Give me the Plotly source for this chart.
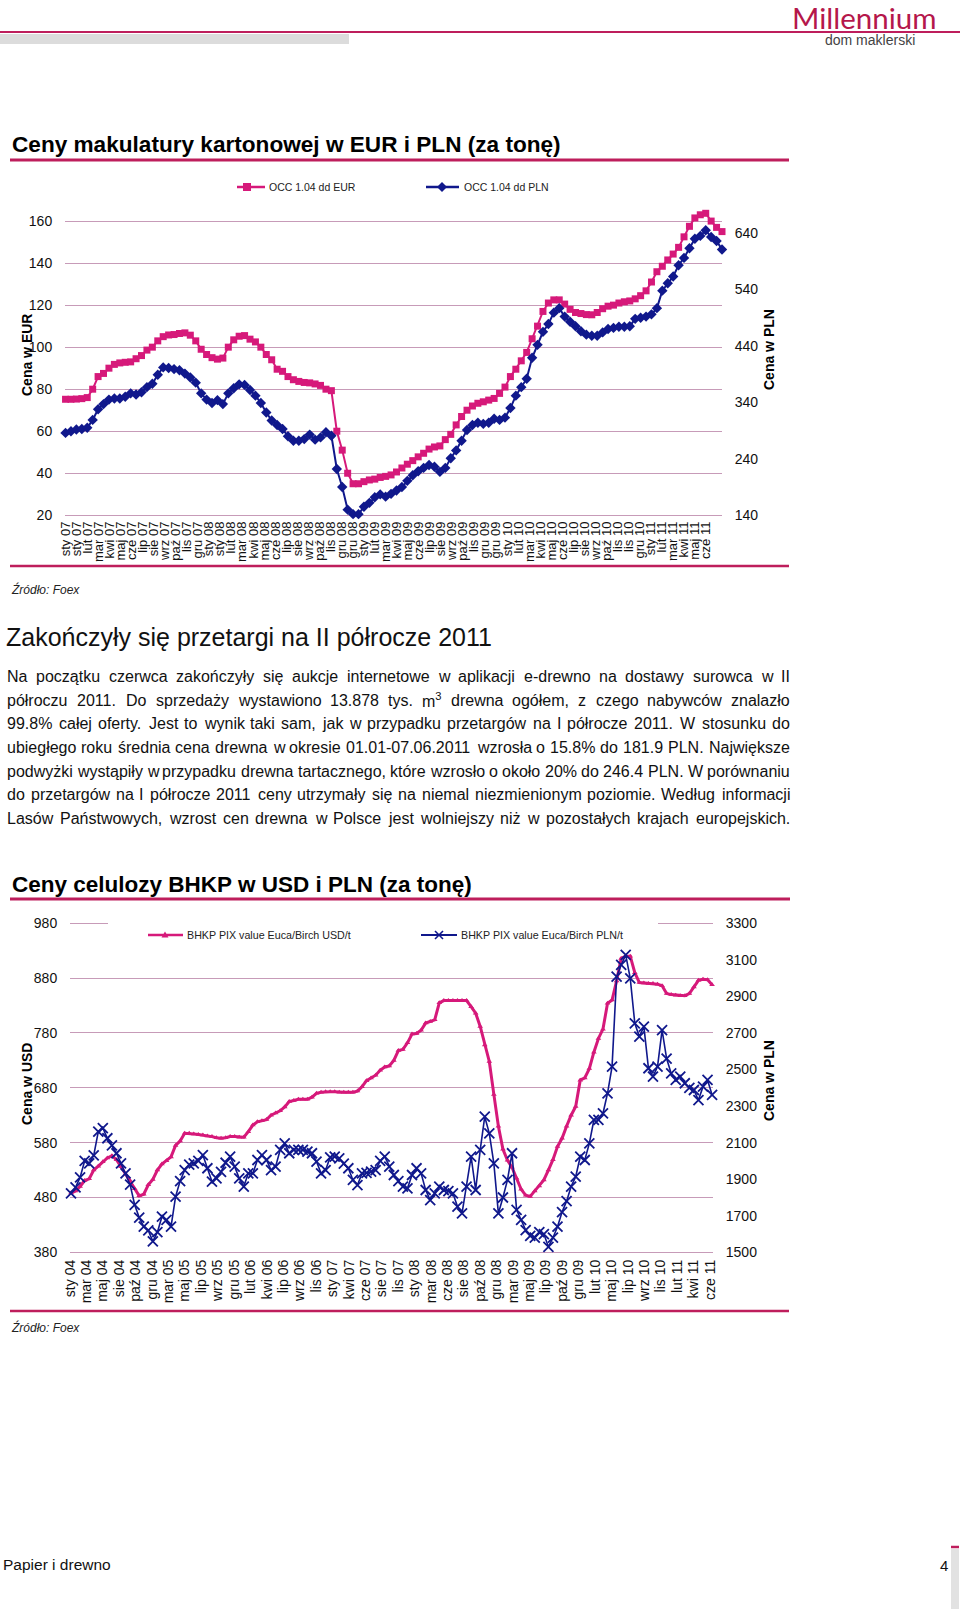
import plotly.graph_objects as go

# ---------------- DATA ----------------
# Chart 1: OCC 1.04 (two-week steps), tick labels
occ_eur = [75.2, 75.2, 75.3, 75.5, 76.0, 80.0, 86.0, 87.5, 90.0, 91.8,
           92.5, 92.8, 93.0, 94.5, 96.0, 98.6, 100.0, 103.0, 105.0, 105.8,
           106.0, 106.5, 106.8, 105.7, 103.0, 99.0, 96.5, 95.0, 94.3, 94.8,
           100.0, 103.5, 105.2, 105.5, 103.8, 102.5, 100.0, 96.5, 94.0, 89.5,
           88.5, 86.0, 84.5, 83.7, 83.2, 83.0, 82.5, 81.8, 80.0, 79.3,
           60.0, 51.0, 40.0, 35.0, 35.0, 36.0, 36.8, 37.2, 38.0, 38.5,
           39.2, 40.6, 42.5, 44.3, 46.0, 47.8, 49.5, 51.5, 52.5, 53.0,
           56.0, 58.5, 63.0, 67.0, 70.0, 72.0, 73.3, 74.0, 74.8, 75.6,
           78.0, 81.0, 86.0, 89.5, 93.5, 97.5, 104.0, 110.0, 117.0, 121.0,
           122.5, 122.5, 120.5, 118.0, 116.5, 116.0, 115.5, 115.4, 116.5, 118.3,
           119.5, 120.0, 121.0, 121.6, 122.0, 123.0, 124.5, 126.8, 131.0, 135.9,
           138.5, 141.5, 144.3, 147.5, 152.5, 157.5, 161.5, 163.0, 163.7, 160.0,
           157.0, 155.0]
occ_pln = [286, 289, 292, 293, 295, 309, 328, 337, 345, 347,
           347, 350, 356, 354, 358, 367, 373, 389, 402, 401,
           399, 397, 391, 384, 375, 356, 345, 339, 344, 337,
           356, 365, 372, 371, 362, 352, 339, 322, 308, 300,
           293, 280, 272, 272, 275, 283, 274, 278, 287, 281,
           222, 190, 150, 142, 142, 155, 162, 172, 177, 173,
           178, 184, 190, 201, 211, 218, 224, 229, 226, 217,
           224, 241, 255, 272, 291, 300, 304, 302, 304, 311,
           309, 313, 330, 352, 367, 382, 419, 442, 465, 479,
           499, 507, 492, 483, 475, 466, 460, 458, 458, 464,
           470, 472, 474, 474, 475, 488, 490, 492, 496, 507,
           538, 551, 563, 583, 596, 613, 630, 635, 645, 633,
           626, 611]
labels1 = ["sty 07", "sty 07", "lut 07", "mar 07", "kwi 07", "maj 07", "cze 07", "lip 07",
           "sie 07", "wrz 07", "paź 07", "lis 07", "gru 07", "sty 08", "sty 08", "lut 08",
           "mar 08", "kwi 08", "maj 08", "cze 08", "lip 08", "sie 08", "wrz 08", "paź 08",
           "lis 08", "gru 08", "gru 08", "sty 09", "lut 09", "mar 09", "kwi 09", "maj 09",
           "cze 09", "lip 09", "sie 09", "wrz 09", "paź 09", "lis 09", "gru 09", "gru 09",
           "sty 10", "lut 10", "mar 10", "kwi 10", "maj 10", "cze 10", "lip 10", "sie 10",
           "wrz 10", "paź 10", "lis 10", "lis 10", "gru 10", "sty 11", "lut 11", "mar 11",
           "kwi 11", "maj 11", "cze 11"]

# Chart 2: BHKP PIX (about three points per tick label)
bhkp_usd = [488, 492, 500, 511, 514, 530, 537, 545, 552, 556,
            549, 536, 523, 511, 496, 483, 486, 503, 513, 530,
            541, 547, 554, 575, 583, 597, 597, 596, 595, 594,
            592, 591, 589, 588, 589, 591, 591, 590, 590, 600,
            612, 618, 620, 622, 630, 634, 638, 645, 655, 657,
            659, 659, 659, 663, 670, 672, 673, 673, 673, 672,
            672, 672, 672, 674, 682, 693, 698, 703, 712, 718,
            720, 730, 748, 750, 762, 778, 779, 785, 798, 801,
            804, 835, 839, 839, 839, 839, 839, 839, 828, 816,
            792, 758, 728, 668, 610, 568, 548, 535, 515, 495,
            484, 482, 492, 501, 512, 530, 549, 573, 588, 610,
            630, 646, 694, 698, 715, 745, 770, 787, 834, 840,
            875, 916, 920, 920, 890, 872, 871, 870, 870, 869,
            866, 852, 850, 849, 848, 848, 852, 864, 876, 878,
            877, 868]
bhkp_pln = [1823, 1855, 1910, 2000, 1987, 2030, 2160, 2180, 2124, 2085,
            2042, 1987, 1932, 1870, 1760, 1690, 1640, 1620, 1560, 1610,
            1695, 1677, 1640, 1805, 1890, 1950, 1980, 1987, 2000, 2032,
            1960, 1887, 1905, 1940, 1990, 2023, 1969, 1905, 1860, 1932,
            1932, 2005, 2032, 2005, 1950, 1969, 2060, 2096, 2042, 2060,
            2060, 2060, 2051, 2042, 1996, 1932, 1950, 2020, 2023, 2014,
            1985, 1960, 1896, 1868, 1932, 1935, 1941, 1950, 2000, 2023,
            1969, 1923, 1890, 1860, 1850, 1923, 1960, 1932, 1841, 1786,
            1823, 1859, 1841, 1835, 1823, 1750, 1713, 1859, 2023, 1841,
            2060, 2242, 2151, 1987, 1713, 1800, 1896, 2042, 1732, 1677,
            1622, 1590, 1580, 1610, 1600, 1530, 1580, 1640, 1720, 1780,
            1860, 1914, 2023, 2005, 2096, 2224, 2224, 2260, 2370, 2516,
            3008, 3072, 3127, 2999, 2753, 2680, 2735, 2507, 2461, 2516,
            2716, 2560, 2479, 2443, 2461, 2425, 2400, 2388, 2333, 2406,
            2443, 2361]
labels2 = ["sty 04", "mar 04", "maj 04", "sie 04", "paź 04", "gru 04", "mar 05", "maj 05",
           "lip 05", "wrz 05", "gru 05", "lut 06", "kwi 06", "lip 06", "wrz 06", "lis 06",
           "sty 07", "kwi 07", "cze 07", "sie 07", "lis 07", "sty 08", "mar 08", "cze 08",
           "sie 08", "paź 08", "gru 08", "mar 09", "maj 09", "lip 09", "paź 09", "gru 09",
           "lut 10", "maj 10", "lip 10", "wrz 10", "lis 10", "lut 11", "kwi 11", "cze 11"]

eur_ticks = [20, 40, 60, 80, 100, 120, 140, 160]
pln1_ticks = [140, 240, 340, 440, 540, 640]
usd_ticks = [380, 480, 580, 680, 780, 880, 980]
pln2_ticks = [1500, 1700, 1900, 2100, 2300, 2500, 2700, 2900, 3100, 3300]

paragraph = [
    "Na początku czerwca zakończyły się aukcje internetowe w aplikacji e-drewno na dostawy surowca w II",
    "półroczu 2011. Do sprzedaży wystawiono 13.878 tys. m<sup>3</sup> drewna ogółem, z czego nabywców znalazło",
    "99.8% całej oferty. Jest to wynik taki sam, jak w przypadku przetargów na I półrocze 2011. W stosunku do",
    "ubiegłego roku średnia cena drewna w okresie 01.01-07.06.2011 wzrosła o 15.8% do 181.9 PLN. Największe",
    "podwyżki wystąpiły w przypadku drewna tartacznego, które wzrosło o około 20% do 246.4 PLN. W porównaniu",
    "do przetargów na I półrocze 2011 ceny utrzymały się na niemal niezmienionym poziomie. Według informacji",
    "Lasów Państwowych, wzrost cen drewna w Polsce jest wolniejszy niż w pozostałych krajach europejskich.",
]

# ---------------- STYLE / LAYOUT HELPERS ----------------
W, H = 960, 1611
PINK = "#D6197A"
NAVY = "#10188C"
CRIMSON = "#BE1E5C"
GRID = "#C79BB8"
FONT = "Liberation Sans, Arial, sans-serif"


def fx(x):
    return x / W


def fy(y):
    return 1 - y / H


annotations = []
shapes = []


def text(x, y, t, size, color="#000000", xanchor="left", angle=0, family=FONT):
    annotations.append(dict(x=fx(x), y=fy(y), xref="paper", yref="paper", text=t,
                            showarrow=False, xanchor=xanchor, yanchor="middle",
                            textangle=angle, borderpad=0,
                            font=dict(size=size, color=color, family=family)))


def hline(x0, x1, y, color, width):
    shapes.append(dict(type="line", xref="paper", yref="paper", x0=fx(x0), x1=fx(x1),
                       y0=fy(y), y1=fy(y), line=dict(color=color, width=width)))


def rect(x0, x1, y0, y1, color, layer="above"):
    shapes.append(dict(type="rect", xref="paper", yref="paper", x0=fx(x0), x1=fx(x1),
                       y0=fy(y1), y1=fy(y0), fillcolor=color, line=dict(width=0), layer=layer))


def path(points, color, fill=True, width=1):
    d = "M " + " L ".join(f"{fx(px):.5f} {fy(py):.5f}" for px, py in points)
    if fill:
        d += " Z"
        shapes.append(dict(type="path", xref="paper", yref="paper", path=d,
                           fillcolor=color, line=dict(color=color, width=0)))
    else:
        shapes.append(dict(type="path", xref="paper", yref="paper", path=d,
                           line=dict(color=color, width=width)))


# Arial / Liberation Sans advance widths (1/1000 em) for justification
CW = {}
for chs, w in [("ABEKPSVXYŚ", 667), ("CDHNRUwĆ", 722), ("FTZŻŹ", 611), ("GOQ", 778),
               ("I ,./:f;'", 278), ("t", 278), ("Jcksvxyzćśźż", 500),
               ("abdeghnopquąęńó0123456789LŁ", 556), ("Mm", 833), ("W", 944),
               ("ijlł", 222), ("r-()", 333), ("%", 889)]:
    for c in chs:
        CW[c] = w


def word_width(word, size):
    if "<sup>" in word:
        base, rest = word.split("<sup>")
        sup = rest.replace("</sup>", "")
        return word_width(base, size) + word_width(sup, size * 0.7)
    return sum(CW.get(c, 556) for c in word) * size / 1000.0


def justified(line, x_left, x_right, y, size):
    words = line.split(" ")
    widths = [word_width(w, size) for w in words]
    gap = (x_right - x_left - sum(widths)) / (len(words) - 1)
    cur = x_left
    for w, wd in zip(words, widths):
        text(cur, y, w, size, "#111111")
        cur += wd + gap


# ---------------- PAGE DECOR ----------------
hline(0, 960, 32, CRIMSON, 2)
rect(0, 349, 34, 44, "#DCDCDC")
text(791, 18, "Millennium", 29.5, "#B5174B", family="Lato, Liberation Sans, sans-serif")
text(824, 40, "dom maklerski", 14, "#444444")

text(11, 145, "<b>Ceny makulatury kartonowej w EUR i PLN (za tonę)</b>", 22.6, "#000000")
hline(10, 789, 160, CRIMSON, 3)

# legend 1
hline(237, 265, 187, PINK, 2.5)
rect(243, 251, 183, 191, PINK)
text(268, 187, "OCC 1.04 dd EUR", 10.5, "#222222")
hline(426, 459, 187, NAVY, 2.5)
path([(442, 182), (447, 187), (442, 192), (437, 187)], NAVY)
text(463, 187, "OCC 1.04 dd PLN", 10.5, "#222222")

# axis titles chart 1
text(27, 355, "<b>Cena w EUR</b>", 14, angle=-90, xanchor="center")
text(769, 350, "<b>Cena w PLN</b>", 14, angle=-90, xanchor="center")

hline(10, 789, 566, CRIMSON, 2.5)
text(10, 590, "<i>Źródło: Foex</i>", 12, "#222222")

# heading + paragraph
text(5, 637, "Zakończyły się przetargi na II półrocze 2011", 25, "#111111")
line_y = [676, 700, 723.5, 747, 771, 794.5, 818]
for ln, yy in zip(paragraph, line_y):
    justified(ln, 6, 789, yy, 16)

# chart 2 title
text(11, 884, "<b>Ceny celulozy BHKP w USD i PLN (za tonę)</b>", 22.5, "#000000")
hline(10, 790, 899, CRIMSON, 3)

# legend 2 (white box hides the top gridline)
rect(108, 658, 916, 931, "#FFFFFF")
hline(148, 183, 935, PINK, 2.5)
path([(165, 931.5), (168.5, 937.5), (161.5, 937.5)], PINK)
text(186, 935, "BHKP PIX value Euca/Birch USD/t", 10.7, "#222222")
hline(421, 457, 935, NAVY, 2)
path([(435, 931), (443, 939)], NAVY, fill=False, width=1.6)
path([(435, 939), (443, 931)], NAVY, fill=False, width=1.6)
text(460, 935, "BHKP PIX value Euca/Birch PLN/t", 10.7, "#222222")

text(27, 1084, "<b>Cena w USD</b>", 14, angle=-90, xanchor="center")
text(769, 1081, "<b>Cena w PLN</b>", 14, angle=-90, xanchor="center")

hline(10, 789, 1311, CRIMSON, 2.5)
text(10, 1327, "<i>Źródło: Foex</i>", 12, "#222222")

# footer
text(2, 1564, "Papier i drewno", 15.5, "#111111")
hline(951, 959, 1547, CRIMSON, 2.5)
rect(951, 959, 1549, 1609, "#E2E2E2")
text(944, 1565, "4", 15, "#111111", xanchor="center")

# ---------------- TRACES ----------------
x1 = list(range(len(occ_eur)))
x2 = list(range(len(bhkp_usd)))

fig = go.Figure()
fig.add_trace(go.Scatter(x=x1, y=occ_eur, xaxis="x", yaxis="y", mode="lines+markers",
                         line=dict(color=PINK, width=2),
                         marker=dict(symbol="square", size=7, color=PINK),
                         cliponaxis=False, name="OCC 1.04 dd EUR"))
fig.add_trace(go.Scatter(x=list(range(len(occ_pln))), y=occ_pln, xaxis="x", yaxis="y2",
                         mode="lines+markers", line=dict(color=NAVY, width=2),
                         marker=dict(symbol="diamond", size=8, color=NAVY),
                         cliponaxis=False, name="OCC 1.04 dd PLN"))
fig.add_trace(go.Scatter(x=x2, y=bhkp_usd, xaxis="x2", yaxis="y3", mode="lines+markers",
                         line=dict(color=PINK, width=3),
                         marker=dict(symbol="triangle-up", size=5, color=PINK),
                         cliponaxis=False, name="BHKP PIX value Euca/Birch USD/t"))
fig.add_trace(go.Scatter(x=list(range(len(bhkp_pln))), y=bhkp_pln, xaxis="x2", yaxis="y4",
                         mode="lines+markers", line=dict(color=NAVY, width=1.6),
                         marker=dict(symbol="x-thin", size=10,
                                     line=dict(color=NAVY, width=1.8), color=NAVY),
                         cliponaxis=False, name="BHKP PIX value Euca/Birch PLN/t"))

# tick positions (layout: label spacing in index units)
step1 = 121 * 11.07 / 658
tickvals1 = [k * step1 for k in range(len(labels1))]
step2 = 16.41 / 4.547
tickvals2 = [k * step2 - 0.2 for k in range(len(labels2))]

tickfont = dict(size=14, color="#111111", family=FONT)
common = dict(zeroline=False, showline=False, automargin=False)
hidden_ticks = dict(ticks="outside", ticklen=9, tickcolor="rgba(0,0,0,0)")

fig.update_layout(
    template="none",
    width=W, height=H, autosize=False, margin=dict(l=0, r=0, t=0, b=0, pad=0),
    paper_bgcolor="white", plot_bgcolor="white", showlegend=False,
    font=dict(family=FONT, color="#111111"),
    annotations=annotations, shapes=shapes,
    xaxis=dict(domain=[fx(65), fx(722)], range=[-0.1, 121.0], anchor="y",
               tickmode="array", tickvals=tickvals1, ticktext=labels1, tickangle=-90,
               tickfont=dict(size=13, color="#111111", family=FONT),
               showgrid=False, ticks="", **common),
    yaxis=dict(domain=[fy(518), fy(207)], range=[18.7, 166.7], anchor="x",
               tickmode="array", tickvals=eur_ticks, tickfont=tickfont,
               showgrid=True, gridcolor=GRID, gridwidth=1, **common, **hidden_ticks),
    yaxis2=dict(overlaying="y", side="right", anchor="x", range=[135.2, 686.2],
                tickmode="array", tickvals=pln1_ticks, tickfont=tickfont,
                showgrid=False, **common, **hidden_ticks),
    xaxis2=dict(domain=[fx(70), fx(713)], range=[-0.22, 141.2], anchor="y3",
                tickmode="array", tickvals=tickvals2, ticktext=labels2, tickangle=-90,
                tickfont=dict(size=14, color="#111111", family=FONT),
                showgrid=False, ticks="", **common),
    yaxis3=dict(domain=[fy(1256), fy(912)], range=[373.3, 1000.6], anchor="x2",
                tickmode="array", tickvals=usd_ticks, tickfont=tickfont,
                showgrid=True, gridcolor=GRID, gridwidth=1, **common, **hidden_ticks),
    yaxis4=dict(overlaying="y3", side="right", anchor="x2", range=[1479.9, 3361.8],
                tickmode="array", tickvals=pln2_ticks, tickfont=tickfont,
                showgrid=False, **common, **hidden_ticks),
)

fig.write_html(
    "out.html",
    config={"displayModeBar": False, "responsive": False},
    post_script=("document.documentElement.style.margin='0';"
                 "document.body.style.margin='0';"
                 "document.body.style.padding='0';"
                 "document.documentElement.style.overflow='hidden';"
                 "document.body.style.overflow='hidden';"),
)
